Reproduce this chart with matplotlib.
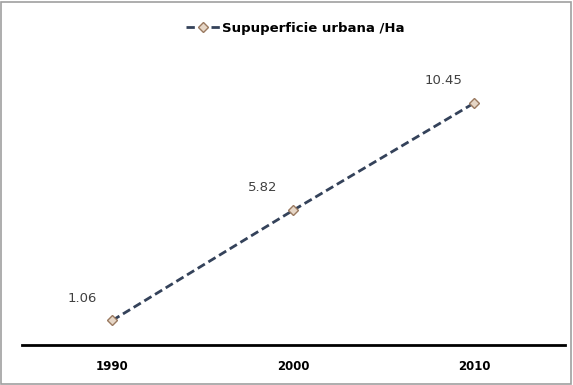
import matplotlib.pyplot as plt
from matplotlib.patches import Rectangle

years = ["1990", "2000", "2010"]
area_ha = [1.06, 5.82, 10.45]
value_labels = ["1.06", "5.82", "10.45"]


def urban_area_chart():
    fig = plt.figure(figsize=(5.73, 3.85), dpi=100)
    ax = fig.add_axes([0.038, 0.104, 0.948, 0.722])

    x = list(range(len(years)))
    ax.plot(x, area_ha, linestyle="--", dashes=(3, 1.5), color="#34425a", linewidth=2,
            marker="D", markersize=5, markerfacecolor="#e6d6c6",
            markeredgecolor="#9a7a60", markeredgewidth=1,
            label="Supuperficie urbana /Ha")

    for xi, yi, txt in zip(x, area_ha, value_labels):
        ax.annotate(txt, (xi, yi), xytext=(-22, 16), textcoords="offset points",
                    ha="center", va="center", fontsize=9.5, color="#404040")

    ax.set_xlim(-0.5, 2.5)
    ax.set_ylim(0, 12)
    ax.set_xticks(x)
    ax.set_xticklabels(years, fontsize=8.5, fontweight="bold")
    ax.set_yticks([])
    ax.tick_params(axis="x", length=0, pad=11)
    for side in ["left", "right", "top"]:
        ax.spines[side].set_visible(False)
    ax.spines["bottom"].set_linewidth(2)
    ax.spines["bottom"].set_color("black")

    fig.legend(loc="center", bbox_to_anchor=(0.515, 0.927), frameon=False,
               prop={"size": 9.5, "weight": "bold"}, handlelength=2.6, handletextpad=0.1)

    fig.patches.append(Rectangle((0.002, 0.003), 0.995, 0.993, transform=fig.transFigure,
                                 fill=False, edgecolor="#a0a0a0", linewidth=1.2))
    return fig


if __name__ == "__main__":
    fig = urban_area_chart()
    fig.savefig("out.png", dpi=100)
